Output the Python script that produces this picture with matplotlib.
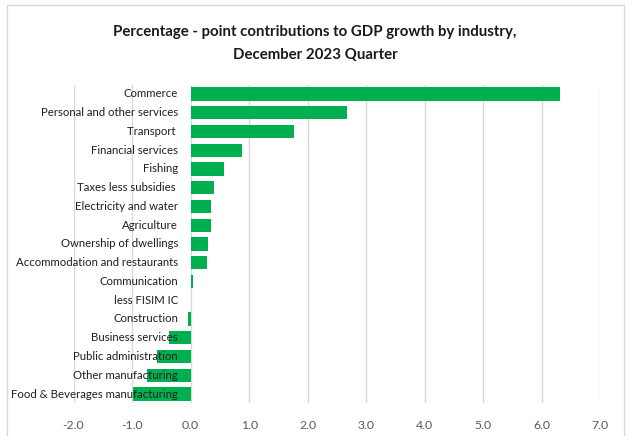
import matplotlib
matplotlib.use("Agg")
import matplotlib.pyplot as plt
import matplotlib.transforms as mtransforms
from matplotlib.patches import Rectangle

# Industry contributions (percentage points), top to bottom
industries = [
    "Commerce",
    "Personal and other services",
    "Transport ",
    "Financial services",
    "Fishing",
    "Taxes less subsidies ",
    "Electricity and water",
    "Agriculture",
    "Ownership of dwellings",
    "Accommodation and restaurants",
    "Communication",
    "less FISIM IC",
    "Construction",
    "Business services",
    "Public administration",
    "Other manufacturing",
    "Food & Beverages manufacturing",
]
contributions = [6.31, 2.68, 1.77, 0.88, 0.57, 0.40, 0.35, 0.35, 0.29, 0.28,
                 0.04, 0.0, -0.05, -0.37, -0.57, -0.75, -0.99]
x_ticks = [-2.0, -1.0, 0.0, 1.0, 2.0, 3.0, 4.0, 5.0, 6.0, 7.0]

label_font = ["Lato", "DejaVu Sans"]
green = "#00B050"

fig = plt.figure(figsize=(6.3, 4.36), dpi=100)

# outer chart frame
fig.patches.append(Rectangle((7 / 630, -0.05), 617 / 630, 1.05 - 5 / 436,
                             transform=fig.transFigure, fill=False,
                             edgecolor="#d9d9d9", linewidth=1.0))

ax = fig.add_axes([0.1167, 0.0748, 0.8362, 0.7312])

rows = list(range(len(industries)))
ax.barh(rows, contributions, height=0.71, color=green, linewidth=0, zorder=2)

ax.set_xlim(-2.0, 7.0)
ax.set_ylim(len(industries) - 0.5, -0.5)
ax.set_xticks(x_ticks)
ax.set_xticklabels([f"{t:.1f}" for t in x_ticks], fontfamily=label_font,
                   fontsize=8.8, color="#595959")
ax.tick_params(axis="x", length=0, pad=12)
ax.set_yticks([])
ax.grid(axis="x", color="#d9d9d9", linewidth=1.0, zorder=0)
for side in ax.spines.values():
    side.set_visible(False)

# category labels sit next to the zero line, on top of the negative bars
offset = mtransforms.ScaledTranslation(-12.5 / 100, 0, fig.dpi_scale_trans)
for r, name in zip(rows, industries):
    ax.text(0, r, name, transform=ax.transData + offset, ha="right",
            va="center", fontsize=8.2, fontfamily=label_font,
            color="#1f1f1f", zorder=3)

fig.text(0.5, 1 - 32 / 436, "Percentage - point contributions to GDP growth by industry,",
         ha="center", va="center", fontsize=10.8, fontweight="bold",
         fontfamily=label_font, color="#1a1a1a")
fig.text(0.5, 1 - 55 / 436, "December 2023 Quarter",
         ha="center", va="center", fontsize=10.8, fontweight="bold",
         fontfamily=label_font, color="#1a1a1a")

fig.savefig("out.png", dpi=100, facecolor="white")
